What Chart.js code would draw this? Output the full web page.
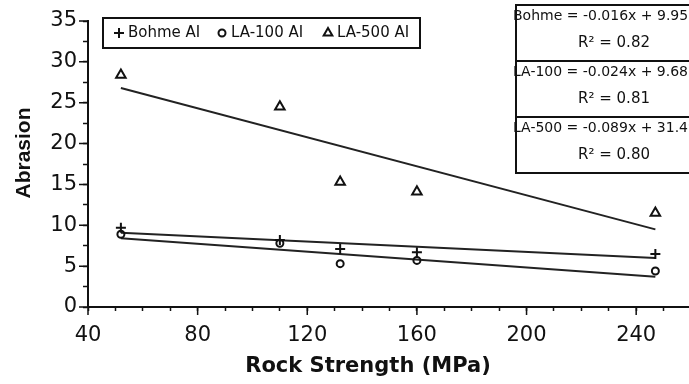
<!DOCTYPE html>
<html>
<head>
<meta charset="utf-8">
<script src="https://cdn.jsdelivr.net/npm/chart.js@4.4.0/dist/chart.umd.min.js"></script>
<style>
html, body { margin: 0; padding: 0; background: #fff; overflow: hidden; }
#wrap { width: 720px; height: 384px; }
</style>
</head>
<body>
<div id="wrap"><canvas id="chart" width="720" height="384"></canvas></div>
<script>
/*  Data  */
const strength = [52, 110, 132, 160, 247];          // Rock Strength (MPa)
const bohme = [9.7, 8.2, 7.1, 6.7, 6.5];
const la100 = [8.9, 7.8, 5.3, 5.7, 4.4];
const la500 = [28.4, 24.5, 15.3, 14.1, 11.5];

/*  trend line end points  */
const fitX = [52, 247];
const bohmeFit = [9.1, 6.0];
const la100Fit = [8.4, 3.7];
const la500Fit = [26.8, 9.5];

const seriesNames = ['Bohme AI', 'LA-100 AI', 'LA-500 AI'];
const equations = ['Bohme = -0.016x + 9.95', 'LA-100 = -0.024x + 9.68', 'LA-500 = -0.089x + 31.49'];
const rSquared = ['0.82', '0.81', '0.80'];

const xTitle = 'Rock Strength (MPa)';
const yTitle = 'Abrasion';

const ink = '#111';

function pts(xs, ys) {
    return xs.map((x, i) => ({ x, y: ys[i] }));
}

function markerSet(label, data, style, radius) {
    return {
        label,
        data: pts(strength, data),
        pointStyle: style,
        pointRadius: radius,
        pointBorderWidth: 2,
        pointBorderColor: ink,
        pointBackgroundColor: 'rgba(0,0,0,0)',
        showLine: false
    };
}

function fitSet(data) {
    return {
        label: '',
        data: pts(fitX, data),
        showLine: true,
        borderColor: '#222',
        borderWidth: 2,
        pointRadius: 0
    };
}

/*  longer ticks on labelled values  */
const majorTicks = {
    id: 'majorTicks',
    afterDraw(chart) {
        const ctx = chart.ctx;
        const xs = chart.scales.x, ys = chart.scales.y;
        ctx.save();
        ctx.strokeStyle = ink;
        ctx.lineWidth = 1.5;
        ctx.beginPath();
        xs.ticks.forEach(t => {
            if (t.value % 40 === 0) {
                const px = xs.getPixelForValue(t.value);
                ctx.moveTo(px, xs.top);
                ctx.lineTo(px, xs.top + 8);
            }
        });
        ys.ticks.forEach(t => {
            if (t.value % 5 === 0) {
                const py = ys.getPixelForValue(t.value);
                ctx.moveTo(ys.right - 9, py);
                ctx.lineTo(ys.right, py);
            }
        });
        ctx.stroke();
        ctx.restore();
    }
};

/*  axis titles, legend box and equation box  */
const annotations = {
    id: 'annotations',
    afterDraw(chart) {
        const ctx = chart.ctx;
        const area = chart.chartArea;
        ctx.save();
        ctx.fillStyle = ink;
        ctx.strokeStyle = ink;

        // axis titles
        ctx.font = 'bold 21px "DejaVu Sans"';
        ctx.textAlign = 'center';
        ctx.textBaseline = 'middle';
        ctx.fillText(xTitle, area.left + 280, 367);

        ctx.save();
        ctx.translate(24, area.top + 132);
        ctx.rotate(-Math.PI / 2);
        ctx.font = 'bold 21px "Liberation Sans"';
        ctx.fillText(yTitle, 0, 0);
        ctx.restore();

        // legend
        const lx = area.left + 15, ly = area.top - 3;
        ctx.lineWidth = 2;
        ctx.strokeRect(lx, ly, 317, 30);
        const styles = ['cross', 'circle', 'triangle'];
        const radii = [5, 3.5, 5];
        const itemX = [lx + 16, lx + 119, lx + 225];
        ctx.font = '15px "DejaVu Sans"';
        ctx.textAlign = 'left';
        ctx.textBaseline = 'middle';
        seriesNames.forEach((name, i) => {
            ctx.fillStyle = 'rgba(0,0,0,0)';
            Chart.helpers.drawPoint(ctx, {
                pointStyle: styles[i], radius: radii[i], borderWidth: 2
            }, itemX[i], ly + 15);
            ctx.fillStyle = ink;
            ctx.fillText(name, itemX[i] + 9, ly + 15);
        });

        // equation box
        const bx = area.left + 428, by = 5, rowH = 56;
        ctx.lineWidth = 2;
        equations.forEach((eq, i) => {
            const top = by + i * rowH;
            ctx.strokeRect(bx, top, 200, rowH);
            ctx.font = '14px "DejaVu Sans"';
            ctx.textAlign = 'left';
            ctx.fillText(eq, bx - 3, top + 11);
            ctx.font = '15px "DejaVu Sans"';
            ctx.textAlign = 'center';
            ctx.fillText('R\u00b2 = ' + rSquared[i], bx + 98, top + 38);
        });
        ctx.restore();
    }
};

Chart.defaults.font.family = '"DejaVu Sans"';
Chart.defaults.color = ink;

new Chart(document.getElementById('chart'), {
    type: 'scatter',
    data: {
        datasets: [
            markerSet(seriesNames[0], bohme, 'cross', 5),
            markerSet(seriesNames[1], la100, 'circle', 3.5),
            markerSet(seriesNames[2], la500, 'triangle', 5.5),
            fitSet(bohmeFit),
            fitSet(la100Fit),
            fitSet(la500Fit)
        ]
    },
    options: {
        responsive: false,
        animation: false,
        layout: { padding: { top: 21, right: 29, left: 0, bottom: 0 } },
        plugins: {
            legend: { display: false },
            tooltip: { enabled: false }
        },
        scales: {
            x: {
                type: 'linear',
                min: 40,
                max: 260,
                afterFit: s => { s.height = 77; },
                border: { color: ink, width: 2 },
                grid: { drawOnChartArea: false, tickLength: 4, tickColor: ink, tickWidth: 1.5 },
                ticks: {
                    stepSize: 10,
                    padding: 12,
                    maxRotation: 0,
                    autoSkip: false,
                    font: { size: 21 },
                    callback: v => (v % 40 === 0 ? v : '')
                }
            },
            y: {
                min: 0,
                max: 35,
                afterFit: s => { s.width = 88; },
                border: { color: ink, width: 2 },
                grid: { drawOnChartArea: false, tickLength: 5, tickColor: ink, tickWidth: 1.5 },
                ticks: {
                    stepSize: 2.5,
                    padding: 6,
                    autoSkip: false,
                    font: { size: 21 },
                    callback: v => (v % 5 === 0 ? v : '')
                }
            }
        }
    },
    plugins: [majorTicks, annotations]
});
</script>
</body>
</html>
